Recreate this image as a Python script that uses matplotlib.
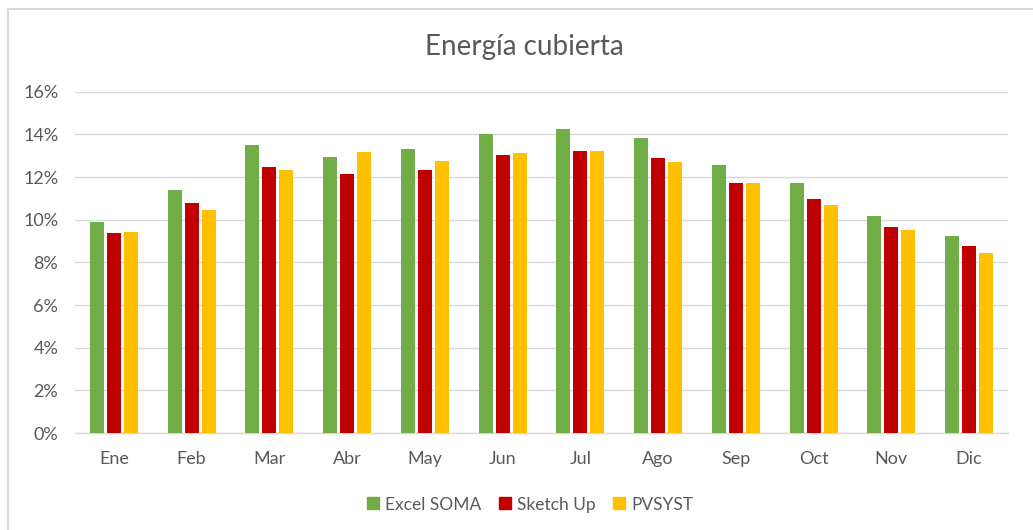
import matplotlib
matplotlib.use("Agg")
import matplotlib.pyplot as plt
from matplotlib.ticker import FuncFormatter
from matplotlib.lines import Line2D
import numpy as np

plt.rcParams['font.family'] = ['Lato', 'DejaVu Sans']

months = ['Ene', 'Feb', 'Mar', 'Abr', 'May', 'Jun', 'Jul', 'Ago', 'Sep', 'Oct', 'Nov', 'Dic']
excel_soma = [9.87, 11.37, 13.51, 12.96, 13.30, 14.02, 14.27, 13.82, 12.57, 11.71, 10.17, 9.23]
sketch_up = [9.37, 10.78, 12.46, 12.12, 12.32, 13.01, 13.23, 12.87, 11.71, 10.98, 9.67, 8.77]
pvsyst = [9.42, 10.47, 12.32, 13.18, 12.73, 13.12, 13.23, 12.71, 11.71, 10.67, 9.52, 8.42]

series = [('Excel SOMA', excel_soma, '#70AD47'),
          ('Sketch Up', sketch_up, '#C00000'),
          ('PVSYST', pvsyst, '#FFC000')]

text_grey = '#595959'
grid_grey = '#D9D9D9'

fig = plt.figure(figsize=(10.33, 5.30), dpi=100)
ax = fig.add_axes([0.0726, 0.183, 0.9032, 0.644])

x = np.arange(len(months))
step = 0.219
for i, (name, vals, col) in enumerate(series):
    ax.bar(x + (i - 1) * step, np.array(vals) / 100, width=0.18, color=col,
           label=name, zorder=3)

ax.set_xlim(-0.5, len(months) - 0.5)
ax.set_ylim(0, 0.16)
ax.set_yticks(np.arange(0, 0.161, 0.02))
ax.yaxis.set_major_formatter(FuncFormatter(lambda v, p: '{:.0f}%'.format(v * 100)))
ax.set_xticks(x)
ax.set_xticklabels(months)
ax.tick_params(axis='both', length=0, labelsize=13, colors=text_grey)
ax.tick_params(axis='y', pad=12)
ax.tick_params(axis='x', pad=13)
ax.grid(axis='y', color=grid_grey, linewidth=1, zorder=0)
for s in ['top', 'right', 'left']:
    ax.spines[s].set_visible(False)
ax.spines['bottom'].set_color(grid_grey)
ax.spines['bottom'].set_linewidth(1)

fig.text(0.508, 0.912, 'Energía cubierta', ha='center', va='center',
         fontsize=20, color=text_grey)

handles = [Line2D([0], [0], marker='s', linestyle='none', markersize=8,
                  markerfacecolor=c, markeredgecolor=c) for _, _, c in series]
fig.legend(handles, [n for n, _, _ in series], loc='center', ncol=3,
           bbox_to_anchor=(0.513, 0.048), frameon=False, fontsize=12.5,
           labelcolor=text_grey, handlelength=0.7, handletextpad=0.35,
           columnspacing=1.0)

# chart area border (top and left edges visible)
fig.add_artist(Line2D([7.5 / 1033, 1], [1 - 8.5 / 530, 1 - 8.5 / 530],
                      color=grid_grey, linewidth=1.5, transform=fig.transFigure))
fig.add_artist(Line2D([7.5 / 1033, 7.5 / 1033], [0, 1 - 8.5 / 530],
                      color=grid_grey, linewidth=1.5, transform=fig.transFigure))

fig.savefig('out.png', dpi=100)
